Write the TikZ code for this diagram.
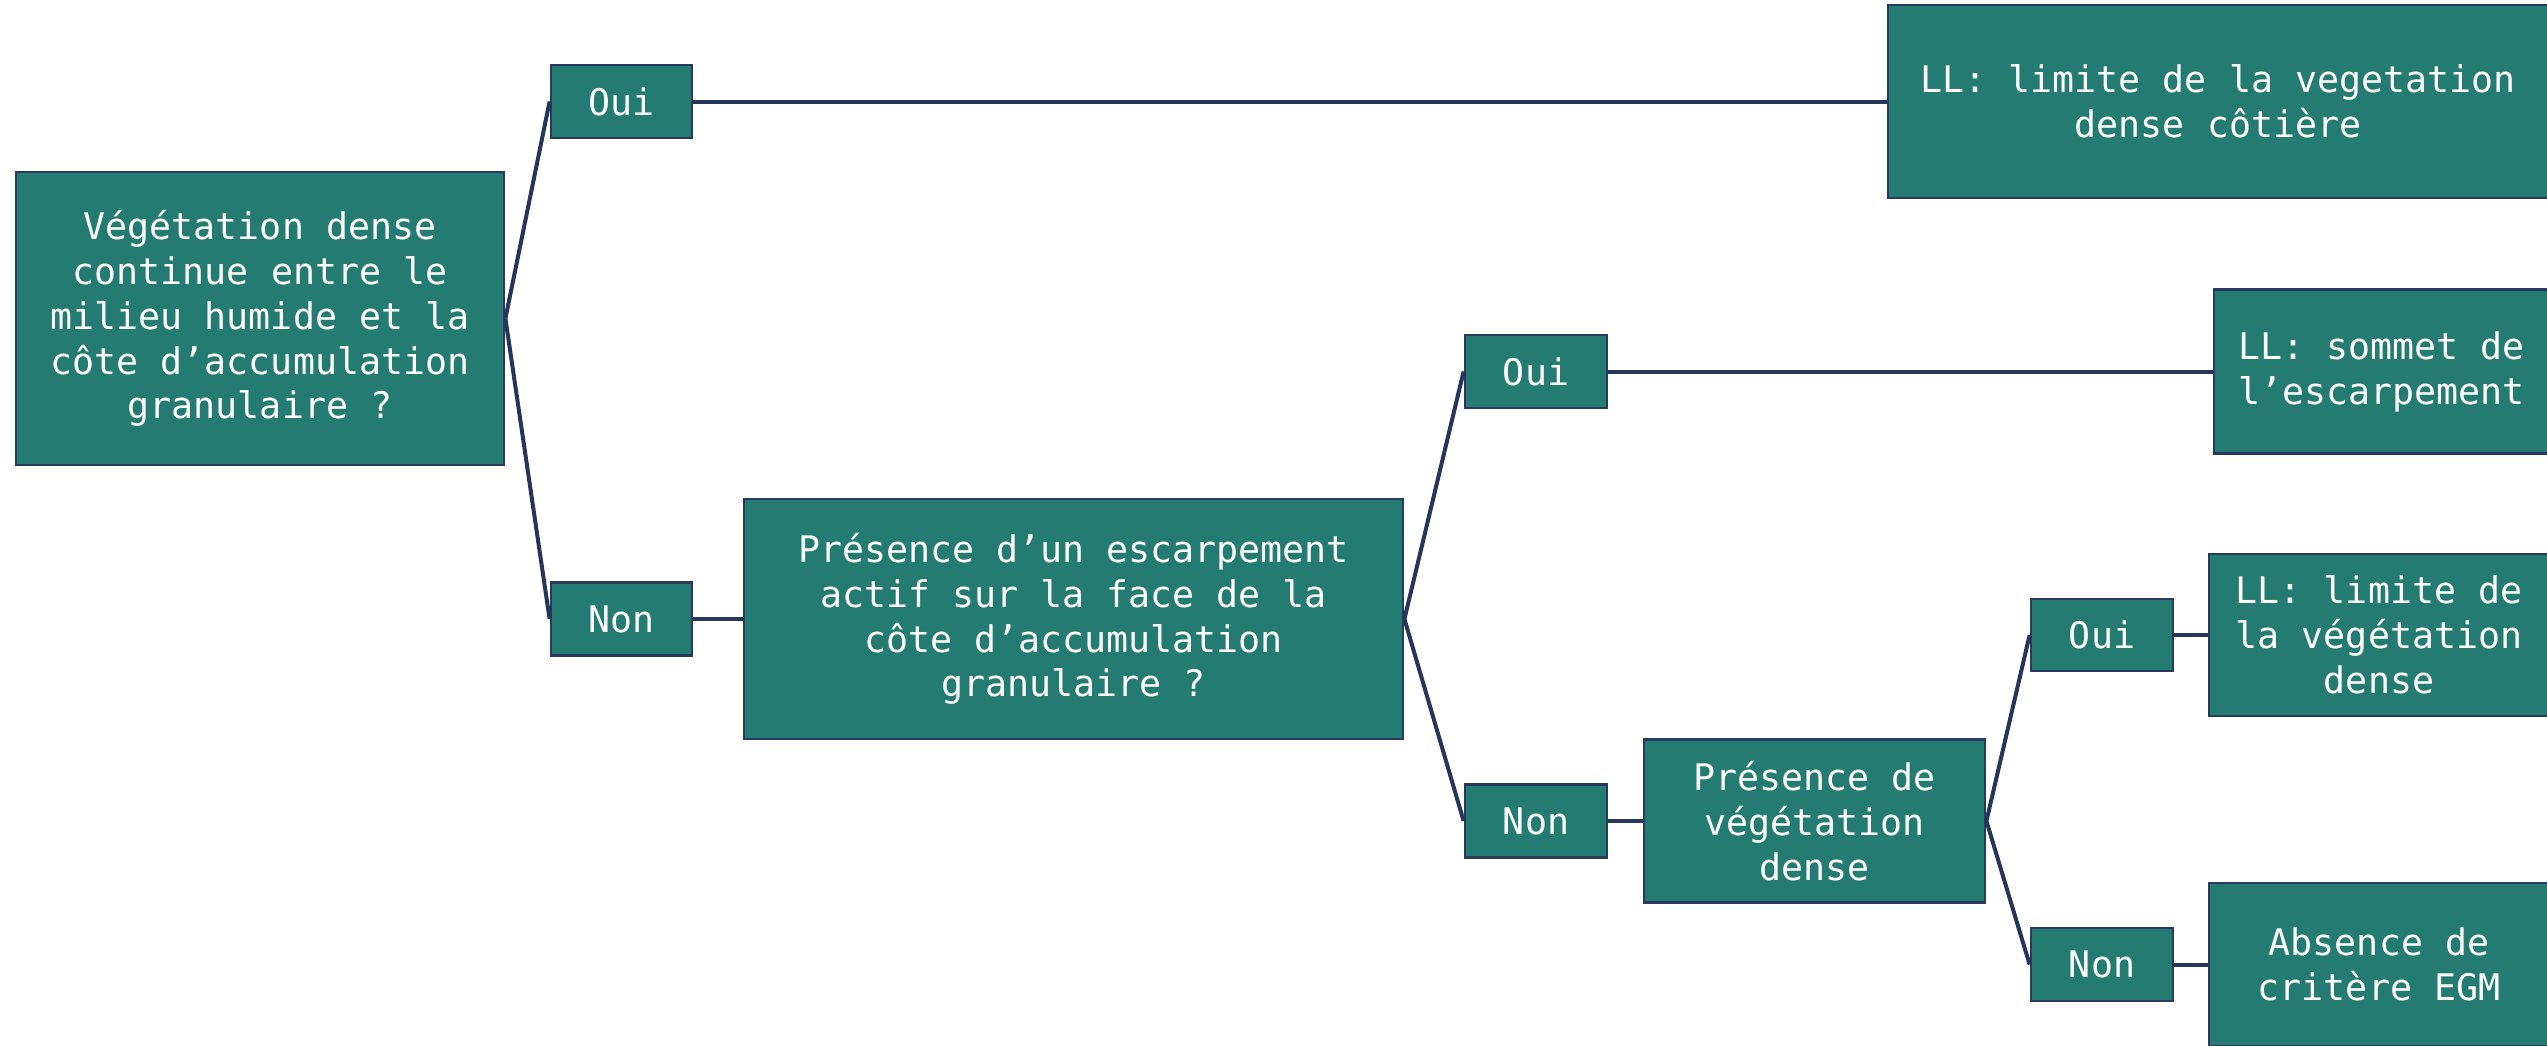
\documentclass[tikz,border=0pt]{standalone}
\usepackage{fontspec}
\newfontfamily\diagmono{DejaVu Sans Mono}
\definecolor{boxfill}{HTML}{237B71}
\definecolor{boxline}{HTML}{2A3A5E}
\definecolor{conn}{HTML}{26365A}
\tikzset{
  box/.style={draw=boxline, line width=1.4pt, fill=boxfill, text=white, align=center, inner sep=0pt,
    font=\diagmono\fontsize{18.3}{22.4}\selectfont},
  conn/.style={draw=conn, line width=2pt}
}
\begin{document}
\begin{tikzpicture}[x=0.5pt,y=-0.5pt]
\useasboundingbox (0,0) rectangle (2547,1045);
% nodes
\node[box, minimum width=488*0.5pt, minimum height=293*0.5pt] (q1) at (260,318.5)
  {Végétation dense\\continue entre le\\milieu humide et la\\côte d’accumulation\\granulaire ?};
\node[box, minimum width=141*0.5pt, minimum height=73*0.5pt] (o1) at (621.5,101.5) {Oui};
\node[box, minimum width=141*0.5pt, minimum height=73*0.5pt] (n1) at (621.5,619) {Non};
\node[box, minimum width=660*0.5pt, minimum height=193*0.5pt] (r1) at (2218,101.5)
  {LL: limite de la vegetation\\dense côtière};
\node[box, minimum width=659*0.5pt, minimum height=240*0.5pt] (q2) at (1073.5,619)
  {Présence d’un escarpement\\actif sur la face de la\\côte d’accumulation\\granulaire ?};
\node[box, minimum width=142*0.5pt, minimum height=73*0.5pt] (o2) at (1536,371.5) {Oui};
\node[box, minimum width=142*0.5pt, minimum height=73*0.5pt] (n2) at (1536,821) {Non};
\node[box, minimum width=335*0.5pt, minimum height=164*0.5pt] (r2) at (2381.5,371.5)
  {LL: sommet de\\l’escarpement};
\node[box, minimum width=341*0.5pt, minimum height=163*0.5pt] (q3) at (1814.5,821)
  {Présence de\\végétation\\dense};
\node[box, minimum width=142*0.5pt, minimum height=72*0.5pt] (o3) at (2102,635) {Oui};
\node[box, minimum width=142*0.5pt, minimum height=73*0.5pt] (n3) at (2102,964.5) {Non};
\node[box, minimum width=340*0.5pt, minimum height=162*0.5pt] (r3) at (2379,635)
  {LL: limite de\\la végétation\\dense};
\node[box, minimum width=340*0.5pt, minimum height=163*0.5pt] (r4) at (2379,964.5)
  {Absence de\\critère EGM};
% connectors
\draw[conn] (q1.east) -- (o1.west);
\draw[conn] (q1.east) -- (n1.west);
\draw[conn] (o1.east) -- (r1.west);
\draw[conn] (n1.east) -- (q2.west);
\draw[conn] (q2.east) -- (o2.west);
\draw[conn] (q2.east) -- (n2.west);
\draw[conn] (o2.east) -- (r2.west);
\draw[conn] (n2.east) -- (q3.west);
\draw[conn] (q3.east) -- (o3.west);
\draw[conn] (q3.east) -- (n3.west);
\draw[conn] (o3.east) -- (r3.west);
\draw[conn] (n3.east) -- (r4.west);
\end{tikzpicture}
\end{document}
